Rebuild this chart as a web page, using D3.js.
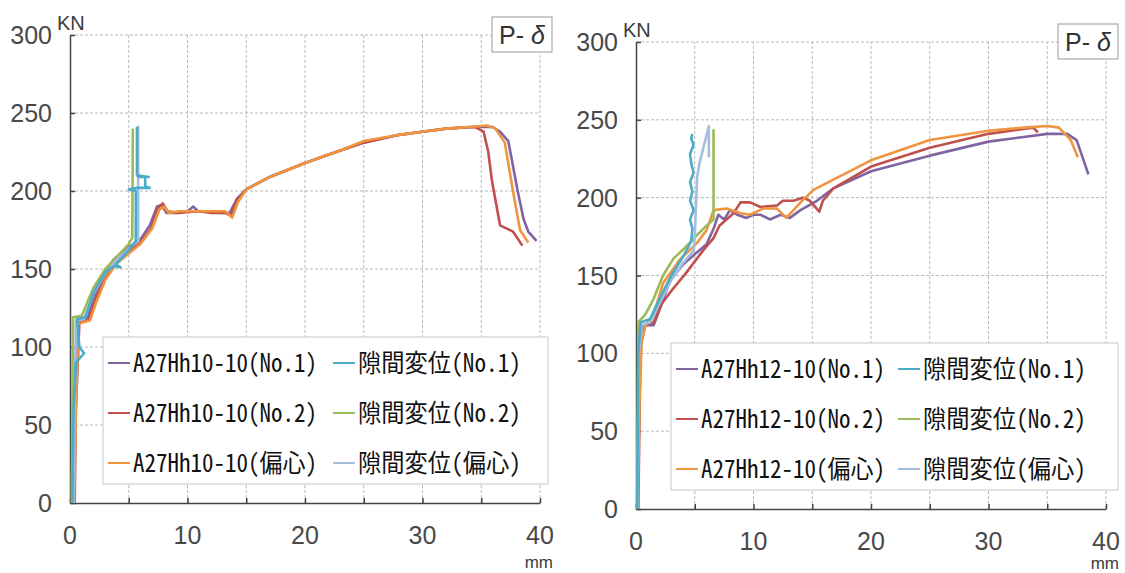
<!DOCTYPE html>
<html>
<head>
<meta charset="utf-8">
<script src="https://cdn.jsdelivr.net/npm/d3@7"></script>
<style>
body { margin: 0; background: #fff; }
svg { display: block; }
</style>
</head>
<body>
<div id="chart"></div>
<script>
// tick values
var xTicks = [0, 10, 20, 30, 40];
var xGrid = [5, 10, 15, 20, 25, 30, 35, 40];
var yTicks = [0, 50, 100, 150, 200, 250, 300];

var colors = ["#8064a2", "#c0504d", "#f0953f", "#4bacc6", "#9bbb59", "#a5bddf"];

var leftLabels = ["A27Hh10-10(No.1)", "A27Hh10-10(No.2)", "A27Hh10-10(偏心)",
                  "隙間変位(No.1)", "隙間変位(No.2)", "隙間変位(偏心)"];
var rightLabels = ["A27Hh12-10(No.1)", "A27Hh12-10(No.2)", "A27Hh12-10(偏心)",
                   "隙間変位(No.1)", "隙間変位(No.2)", "隙間変位(偏心)"];

// left chart : [mm, kN]
var leftNo1 = [[0.3,0],[0.4,60],[0.6,118],[1.5,118],[2,131],[2.8,146],[3.7,156],[4.8,163],[6,169],[6.8,178],[7.4,190],[7.8,191],[8.2,186],[9.1,186],[10,187],[10.5,190],[10.9,187],[12,187],[13,186],[13.6,186],[14.2,195],[15,201],[17,209],[20,218],[23,226],[25,231],[28,236],[30,238],[32,240],[34,241],[36,241],[36.6,238],[37.3,232],[38.1,200],[38.6,182],[39,174],[39.7,168]];
var leftNo2 = [[0.4,0],[0.5,60],[0.8,116],[1.6,117],[2.1,129],[2.9,144],[3.8,154],[4.9,161],[6,167],[6.9,176],[7.5,189],[7.9,192],[8.3,187],[9.2,186],[11,187],[12,186],[13.2,186],[13.7,184],[14.2,194],[15,201],[17,209],[20,218],[23,226],[25,231],[28,236],[30,238],[32,240],[34.5,241],[35.2,238],[35.6,225],[35.9,207],[36.6,178],[37.7,174],[38.5,165]];
var leftEcc = [[0.35,0],[0.5,60],[0.7,115],[1.7,117],[2.2,128],[3,143],[3.9,153],[5,160],[6,166],[7,176],[7.6,188],[8,190],[8.4,186],[9.3,187],[11,187],[12.5,187],[13.2,187],[13.8,183],[14.3,193],[15,201],[17,209],[20,218],[23,226],[25,232],[28,236],[30,238],[32,240],[34,241],[35.5,242],[36.2,240],[37,231],[37.7,200],[38.3,175],[39,167]];
var leftGap1 = [[0.2,0],[0.3,60],[0.5,90],[1.2,96],[0.8,100],[0.6,118],[1.3,119],[2,135],[3,148],[3.8,152],[4.3,151],[3.9,153],[5,162],[5.6,168],[5.6,200],[5,201],[5.7,202],[6.8,202],[6.4,203],[6.4,209],[5.8,209],[6.7,209],[5.7,210],[5.7,241]];
var leftGap2 = [[0.15,0],[0.2,60],[0.25,119],[1,120],[2,138],[3,150],[4,158],[5,166],[5.3,170],[5.35,240]];
var leftGap3 = [[0.3,0],[0.4,60],[0.5,117],[1.2,118],[2,134],[3,147],[4,156],[5,163],[5.8,168],[5.8,242]];

// right chart : [mm, kN]
var rightNo1 = [[0.1,0],[0.3,100],[0.6,118],[1.5,118],[2.2,132],[2.9,147],[4,157],[5.2,165],[6,170],[6.6,180],[7,189],[7.5,186],[8,192],[8.6,189],[9.4,187],[10,189],[10.6,189],[11.4,186],[12.3,189],[13.1,187],[14,192],[15.4,198],[16.8,206],[20,217],[25,227],[30,236],[33,239],[35,241],[36.7,241],[37.5,237],[38,226],[38.5,215]];
var rightNo2 = [[0.2,0],[0.3,60],[0.4,105],[0.8,118],[1.5,120],[2.2,132],[3.1,141],[4.3,152],[5.7,166],[6.6,174],[7.1,182],[8.3,190],[8.9,197],[9.7,197],[10.6,194],[12,195],[12.5,198],[13.4,198],[14.2,200],[14.8,198],[15.6,191],[15.9,198],[16.8,206],[20,220],[25,232],[30,241],[33.8,245],[34.2,242]];
var rightEcc = [[0.15,0],[0.3,70],[0.5,110],[0.8,118],[1.5,125],[2.3,145],[3.7,160],[5.2,171],[6,179],[6.6,192],[7.7,193],[8.9,190],[9.7,189],[10.8,193],[12,193],[12.8,187],[14,197],[15.1,205],[20,224],[25,237],[30,243],[33,245],[35,246],[36,245],[37,237],[37.6,226]];
var rightGap1 = [[0.1,0],[0.2,100],[0.4,120],[1.2,122],[2,135],[3,150],[4,162],[4.7,172],[4.8,180],[4.6,186],[4.9,192],[4.6,198],[4.8,204],[4.6,210],[4.9,216],[4.7,222],[4.6,228],[4.9,234],[4.7,238],[4.8,241]];
var rightGap2 = [[0.1,0],[0.2,120],[0.8,125],[1.5,135],[2.3,150],[3.2,161],[4.2,168],[5.2,176],[6,182],[6.6,186],[6.6,244]];
var rightGap3 = [[0.1,0],[0.25,100],[0.5,118],[1.2,120],[2,132],[3,147],[4,158],[4.9,166],[5,175],[5.2,213],[5.4,222],[6.2,246],[6.2,226]];

var svg = d3.select("#chart").append("svg")
    .attr("width", 1125)
    .attr("height", 573);

function drawChart(cfg) {
    var x = d3.scaleLinear().domain([0, 40]).range([cfg.x0, cfg.x1]);
    var y = d3.scaleLinear().domain([0, 300]).range([cfg.y0, cfg.y1]);
    var g = svg.append("g");

    // grid
    g.selectAll(".vgrid").data(xGrid).enter().append("line")
        .attr("x1", function(d) { return x(d); })
        .attr("x2", function(d) { return x(d); })
        .attr("y1", y(0)).attr("y2", y(300))
        .attr("stroke", "#b8b8b8").attr("stroke-dasharray", "3,2");
    g.selectAll(".hgrid").data(yTicks.slice(1)).enter().append("line")
        .attr("x1", x(0)).attr("x2", x(40))
        .attr("y1", function(d) { return y(d); })
        .attr("y2", function(d) { return y(d); })
        .attr("stroke", "#b8b8b8").attr("stroke-dasharray", "3,2");

    // axes
    var xAxis = d3.axisBottom(x).tickValues(xGrid.concat([0])).tickSizeInner(-5).tickSizeOuter(0).tickFormat("");
    var yAxis = d3.axisLeft(y).tickValues(yTicks).tickSizeInner(-5).tickSizeOuter(0).tickFormat("");
    g.append("g").attr("transform", "translate(0," + y(0) + ")").call(xAxis)
        .selectAll("path,line").attr("stroke", "#444").attr("stroke-width", 1.5);
    g.append("g").attr("transform", "translate(" + x(0) + ",0)").call(yAxis)
        .selectAll("path,line").attr("stroke", "#444").attr("stroke-width", 1.5);

    g.selectAll(".ylab").data(yTicks).enter().append("text")
        .attr("x", x(0) - 18)
        .attr("y", function(d) { return y(d); })
        .attr("dy", "0.36em")
        .attr("text-anchor", "end")
        .style("font", "25px 'Liberation Sans', sans-serif")
        .attr("fill", "#484848")
        .text(function(d) { return d; });
    g.selectAll(".xlab").data(xTicks).enter().append("text")
        .attr("x", function(d) { return x(d); })
        .attr("y", y(0) + 41)
        .attr("text-anchor", "middle")
        .style("font", "25px 'Liberation Sans', sans-serif")
        .attr("fill", "#484848")
        .text(function(d) { return d; });
    g.append("text")
        .attr("x", x(0) - 13).attr("y", y(300) - 5)
        .style("font", "20px 'Liberation Sans', sans-serif")
        .attr("fill", "#3c3c3c").text("KN");
    g.append("text")
        .attr("x", x(40) + 13).attr("y", cfg.mmY)
        .attr("text-anchor", "end")
        .style("font", "17px 'Liberation Sans', sans-serif")
        .attr("fill", "#3c3c3c").text("mm");

    // curves
    var line = d3.line()
        .x(function(d) { return x(d[0]); })
        .y(function(d) { return y(d[1]); });
    var order = [0, 1, 2, 4, 5, 3];
    order.forEach(function(i) {
        g.append("path")
            .datum(cfg.series[i])
            .attr("d", line)
            .attr("fill", "none")
            .attr("stroke", colors[i])
            .attr("stroke-width", 2.6)
            .attr("stroke-linejoin", "round");
    });

    // P-delta box
    g.append("rect")
        .attr("x", x(40) - 48).attr("y", y(300) - 18)
        .attr("width", 60).attr("height", 35)
        .attr("fill", "#fff").attr("stroke", "#999");
    var pt = g.append("text")
        .attr("x", x(40) - 18).attr("y", y(300) + 9)
        .attr("text-anchor", "middle")
        .style("font", "25px 'Liberation Sans', sans-serif")
        .attr("fill", "#333");
    pt.append("tspan").text("P- ");
    pt.append("tspan").style("font-style", "italic").text("δ");

    // legend
    var lx = x(0) + cfg.legDx, ly = y(0) - 166;
    g.append("rect")
        .attr("x", lx).attr("y", ly)
        .attr("width", cfg.legW).attr("height", 147)
        .attr("fill", "#fff").attr("stroke", "#c8c8c8");
    for (var i = 0; i < 6; i++) {
        var col = i < 3 ? 0 : 1;
        var row = i % 3;
        var ix = lx + 5 + col * cfg.colW;
        var iy = ly + 26 + row * 50;
        g.append("line")
            .attr("x1", ix).attr("x2", ix + 22)
            .attr("y1", iy).attr("y2", iy)
            .attr("stroke", colors[i]).attr("stroke-width", 2);
        g.append("text")
            .attr("x", ix + 25).attr("y", iy + 9)
            .attr("textLength", col == 0 ? 184 : 163)
            .attr("lengthAdjust", "spacingAndGlyphs")
            .style("font", "25px 'Noto Sans Mono CJK JP', 'Noto Sans CJK JP', sans-serif")
            .attr("fill", "#111")
            .text(cfg.labels[i]);
    }
}

drawChart({ x0: 70, x1: 540, y0: 503, y1: 35, legDx: 33, legW: 445, colW: 225, mmY: 568,
            labels: leftLabels,
            series: [leftNo1, leftNo2, leftEcc, leftGap1, leftGap2, leftGap3] });
drawChart({ x0: 636, x1: 1106, y0: 509, y1: 42, legDx: 35, legW: 447, colW: 222, mmY: 569,
            labels: rightLabels,
            series: [rightNo1, rightNo2, rightEcc, rightGap1, rightGap2, rightGap3] });
</script>
</body>
</html>
